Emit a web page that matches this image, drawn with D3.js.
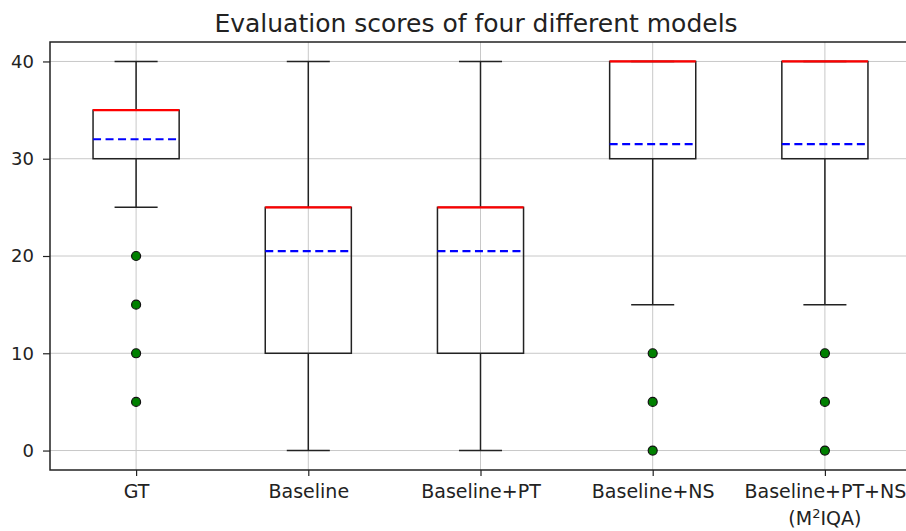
<html><head>
  <script src="https://d3js.org/d3.v7.min.js"></script>
  <style>
    body { margin: 0; background: #fff; }
    text { font-family: 'DejaVu Sans', sans-serif; fill: #222; }
    .gridlines line { stroke: #c8c8c8; stroke-width: 1; }
  </style>
</head>
<body>
  <script>
    // box plot stats
    const categories = ["GT", "Baseline", "Baseline+PT", "Baseline+NS", "Baseline+PT+NS"]
    const whiskerLow = [25, 0, 0, 15, 15]
    const q1 = [30, 10, 10, 30, 30]
    const medians = [35, 25, 25, 40, 40]
    const q3 = [35, 25, 25, 40, 40]
    const whiskerHigh = [40, 40, 40, 40, 40]
    const means = [32, 20.5, 20.5, 31.5, 31.5]
    const outliers = [[20, 15, 10, 5], [], [], [10, 5, 0], [10, 5, 0]]
    const yTicks = [0, 10, 20, 30, 40]

    const width = 906, height = 531
    const margin = {top: 42, bottom: 61, left: 50, right: -5}

    const svg = d3.select("body").append("svg")
                  .attr("width", width)
                  .attr("height", height)

    const xScale = d3.scaleLinear().domain([0.5, categories.length + 0.5])
                     .range([margin.left, width - margin.right])
    const yScale = d3.scaleLinear().domain([-2, 42])
                     .range([height - margin.bottom, margin.top])

    const boxW = xScale(1.25) - xScale(1)   // half box width (0.5 units total)
    const capW = boxW / 2

    const rows = categories.map((c, i) => ({
      cat: c, pos: i + 1, lo: whiskerLow[i], q1: q1[i], med: medians[i],
      q3: q3[i], hi: whiskerHigh[i], mean: means[i], fliers: outliers[i]
    }))

    // gridlines
    const grid = svg.append("g").attr("class", "gridlines")
    grid.selectAll("line.h").data(yTicks).join("line")
        .attr("class", "h")
        .attr("x1", margin.left).attr("x2", width)
        .attr("y1", d => yScale(d)).attr("y2", d => yScale(d))
    grid.selectAll("line.v").data(rows).join("line")
        .attr("class", "v")
        .attr("x1", d => xScale(d.pos)).attr("x2", d => xScale(d.pos))
        .attr("y1", margin.top).attr("y2", height - margin.bottom)

    // axes
    const leftAxis = d3.axisLeft(yScale).tickValues(yTicks).tickSize(7).tickPadding(9)
    const yAxis = svg.append("g").attr("transform", `translate(${margin.left},0)`).call(leftAxis)
    yAxis.select(".domain").remove()
    yAxis.selectAll("line").attr("stroke", "#222").attr("stroke-width", 1.2)
    yAxis.selectAll("text").style("font-size", "18px").attr("fill", "#222")

    const bottomAxis = d3.axisBottom(xScale).tickValues(rows.map(d => d.pos))
                         .tickSize(6).tickPadding(9).tickFormat(d => categories[d - 1])
    const xAxis = svg.append("g").attr("transform", `translate(0,${height - margin.bottom})`).call(bottomAxis)
    xAxis.select(".domain").remove()
    xAxis.selectAll("line").attr("stroke", "#222").attr("stroke-width", 1.2)
    xAxis.selectAll("text").style("font-size", "19px").attr("fill", "#222")

    // second line of the last label
    const extra = svg.append("text")
                     .attr("x", xScale(5)).attr("y", height - margin.bottom + 55)
                     .attr("text-anchor", "middle").style("font-size", "19px")
    extra.append("tspan").text("(M")
    extra.append("tspan").text("2").attr("dy", -7).style("font-size", "13px")
    extra.append("tspan").text("IQA)").attr("dy", 7)

    // frame
    svg.append("rect")
       .attr("x", margin.left).attr("y", margin.top)
       .attr("width", xScale(5.5) - margin.left)
       .attr("height", yScale(-2) - margin.top)
       .attr("fill", "none").attr("stroke", "#222").attr("stroke-width", 1.5)

    const boxes = svg.append("g")

    // whiskers
    boxes.selectAll("line.wlo").data(rows).join("line")
         .attr("x1", d => xScale(d.pos)).attr("x2", d => xScale(d.pos))
         .attr("y1", d => yScale(d.q1)).attr("y2", d => yScale(d.lo))
         .attr("stroke", "#222").attr("stroke-width", 1.5)
    boxes.selectAll("line.whi").data(rows).join("line")
         .attr("x1", d => xScale(d.pos)).attr("x2", d => xScale(d.pos))
         .attr("y1", d => yScale(d.q3)).attr("y2", d => yScale(d.hi))
         .attr("stroke", "#222").attr("stroke-width", 1.5)
    // caps
    boxes.selectAll("line.clo").data(rows).join("line")
         .attr("x1", d => xScale(d.pos) - capW).attr("x2", d => xScale(d.pos) + capW)
         .attr("y1", d => yScale(d.lo)).attr("y2", d => yScale(d.lo))
         .attr("stroke", "#222").attr("stroke-width", 1.5)
    boxes.selectAll("line.chi").data(rows).join("line")
         .attr("x1", d => xScale(d.pos) - capW).attr("x2", d => xScale(d.pos) + capW)
         .attr("y1", d => yScale(d.hi)).attr("y2", d => yScale(d.hi))
         .attr("stroke", "#222").attr("stroke-width", 1.5)

    // boxes
    boxes.selectAll("rect.box").data(rows).join("rect")
         .attr("x", d => xScale(d.pos) - boxW)
         .attr("y", d => yScale(d.q3))
         .attr("width", boxW * 2)
         .attr("height", d => yScale(d.q1) - yScale(d.q3))
         .attr("fill", "none").attr("stroke", "#222").attr("stroke-width", 1.5)

    // medians
    boxes.selectAll("line.med").data(rows).join("line")
         .attr("x1", d => xScale(d.pos) - boxW).attr("x2", d => xScale(d.pos) + boxW)
         .attr("y1", d => yScale(d.med)).attr("y2", d => yScale(d.med))
         .attr("stroke", "#ff0000").attr("stroke-width", 2.2)

    // means
    boxes.selectAll("line.mean").data(rows).join("line")
         .attr("x1", d => xScale(d.pos) - boxW).attr("x2", d => xScale(d.pos) + boxW)
         .attr("y1", d => yScale(d.mean)).attr("y2", d => yScale(d.mean))
         .attr("stroke", "#0000ff").attr("stroke-width", 2.2)
         .attr("stroke-dasharray", "8,4.5")

    // fliers
    const fl = rows.flatMap(d => d.fliers.map(v => ({pos: d.pos, v: v})))
    boxes.selectAll("circle.flier").data(fl).join("circle")
         .attr("cx", d => xScale(d.pos)).attr("cy", d => yScale(d.v))
         .attr("r", 4.5)
         .attr("fill", "#008000").attr("stroke", "#111").attr("stroke-width", 1.2)

    // title
    svg.append("text")
       .attr("x", 476).attr("y", 32)
       .attr("text-anchor", "middle")
       .style("font-size", "25px")
       .text("Evaluation scores of four different models")
  </script>
</body></html>
